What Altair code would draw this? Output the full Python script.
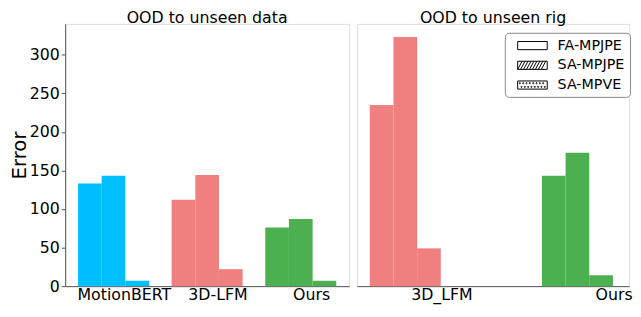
import altair as alt
import pandas as pd

# ---- data ----
metrics = ["FA-MPJPE", "SA-MPJPE", "SA-MPVE"]

left_models = ["MotionBERT", "3D-LFM", "Ours"]
left_fa = [133, 112, 76]
left_sa = [143, 144, 87]
left_mpve = [7, 22, 7]

right_models = ["3D_LFM", "Ours"]
right_fa = [235, 143]
right_sa = [323, 173]
right_mpve = [49, 14]

color_domain = ["MotionBERT", "3D-LFM", "3D_LFM", "Ours"]
color_range = ["#00BFFF", "#F08080", "#F08080", "#4CAF50"]

y_ticks = [0, 50, 100, 150, 200, 250, 300]
FONT = "DejaVu Sans"


def long_table(models, fa, sa, mpve):
    rows = []
    for i, m in enumerate(models):
        for met, vals in zip(metrics, [fa, sa, mpve]):
            rows.append({"model": m, "metric": met, "value": vals[i]})
    return pd.DataFrame(rows)


left_df = long_table(left_models, left_fa, left_sa, left_mpve)
right_df = long_table(right_models, right_fa, right_sa, right_mpve)

# legend symbol paths (hatch patterns are drawn into the symbol)
rect = "M-2,-0.55H2V0.55H-2Z"
hatch = rect + "".join(
    f"M{x:.2f},0.55L{x + 0.6:.2f},-0.55" for x in [-2.0 + 0.4 * k for k in range(9)]
)
dots = rect
r = 0.08
for row, y in enumerate([-0.25, 0.25]):
    start = -1.7 + (0.22 if row else 0)
    for k in range(8):
        x = start + 0.45 * k
        if x > 1.8:
            continue
        dots += f"M{x - r:.2f},{y}a{r},{r} 0 1,0 {2*r},0a{r},{r} 0 1,0 {-2*r},0"

shape_paths = [rect, hatch, dots]

y_scale = alt.Scale(domain=[0, 340], nice=False, zero=True)
color_scale = alt.Scale(domain=color_domain, range=color_range)
offset_scale = alt.Scale(domain=metrics, paddingInner=0, paddingOuter=0)

PANEL_H = 266


def panel(df, models, title, width, x_scale, label_offset, show_y):
    y_axis = (
        alt.Axis(
            values=y_ticks, tickSize=4, labelFontSize=16, labelFont=FONT,
            labelColor="black", title="Error", titleFont=FONT, titleFontSize=20,
            titleFontWeight="normal", titleColor="black", titlePadding=0,
            labelPadding=2, grid=False, domainColor="#555", tickColor="#555",
        )
        if show_y
        else None
    )
    bars = alt.Chart(df).mark_bar().encode(
        x=alt.X(
            "model:N",
            sort=models,
            scale=x_scale,
            axis=alt.Axis(
                title=None, labelAngle=0, ticks=False, labelFontSize=16,
                labelFont=FONT, labelColor="black", labelPadding=1,
                labelOffset=label_offset, domainColor="#555",
            ),
        ),
        xOffset=alt.XOffset("metric:N", sort=metrics, scale=offset_scale),
        y=alt.Y("value:Q", scale=y_scale, axis=y_axis),
        color=alt.Color("model:N", scale=color_scale, legend=None),
    )
    return bars.properties(
        width=width,
        height=PANEL_H,
        title=alt.TitleParams(
            title, fontSize=16, font=FONT, fontWeight="normal", color="black", offset=-2
        ),
    )


left = panel(
    left_df, left_models, "OOD to unseen data", 288,
    alt.Scale(paddingInner=0.242, paddingOuter=0.137), 11, True,
)
right_bars = panel(
    right_df, right_models, "OOD to unseen rig", 276,
    alt.Scale(paddingInner=0.494, paddingOuter=0.0372, align=1), 29, False,
)

legend_layer = alt.Chart(pd.DataFrame({"metric": metrics})).mark_point(
    filled=False, color="black", clip=True, size=225, strokeWidth=1, opacity=1
).encode(
    x=alt.value(0),
    y=alt.value(-200),
    shape=alt.Shape(
        "metric:N",
        sort=metrics,
        scale=alt.Scale(domain=metrics, range=shape_paths),
        legend=alt.Legend(
            title=None, orient="none", legendX=446, legendY=9, padding=5,
            fillColor="white", strokeColor="#888", cornerRadius=4,
            symbolSize=225, symbolStrokeWidth=1, symbolStrokeColor="black",
            symbolOffset=15, labelOffset=17.5, labelFontSize=14.5, labelFont=FONT,
            labelColor="black", rowPadding=5,
        ),
    ),
)

right = alt.layer(right_bars, legend_layer)

chart = (
    alt.hconcat(left, right, spacing=6)
    .resolve_scale(x="independent", color="shared")
    .configure_view(stroke="#333", strokeWidth=1.2)
    .configure(
        padding={"left": 0, "top": -1, "right": 0, "bottom": -1},
        background="white",
    )
)

chart.save("out.html", embed_options={"renderer": "svg", "actions": False})
